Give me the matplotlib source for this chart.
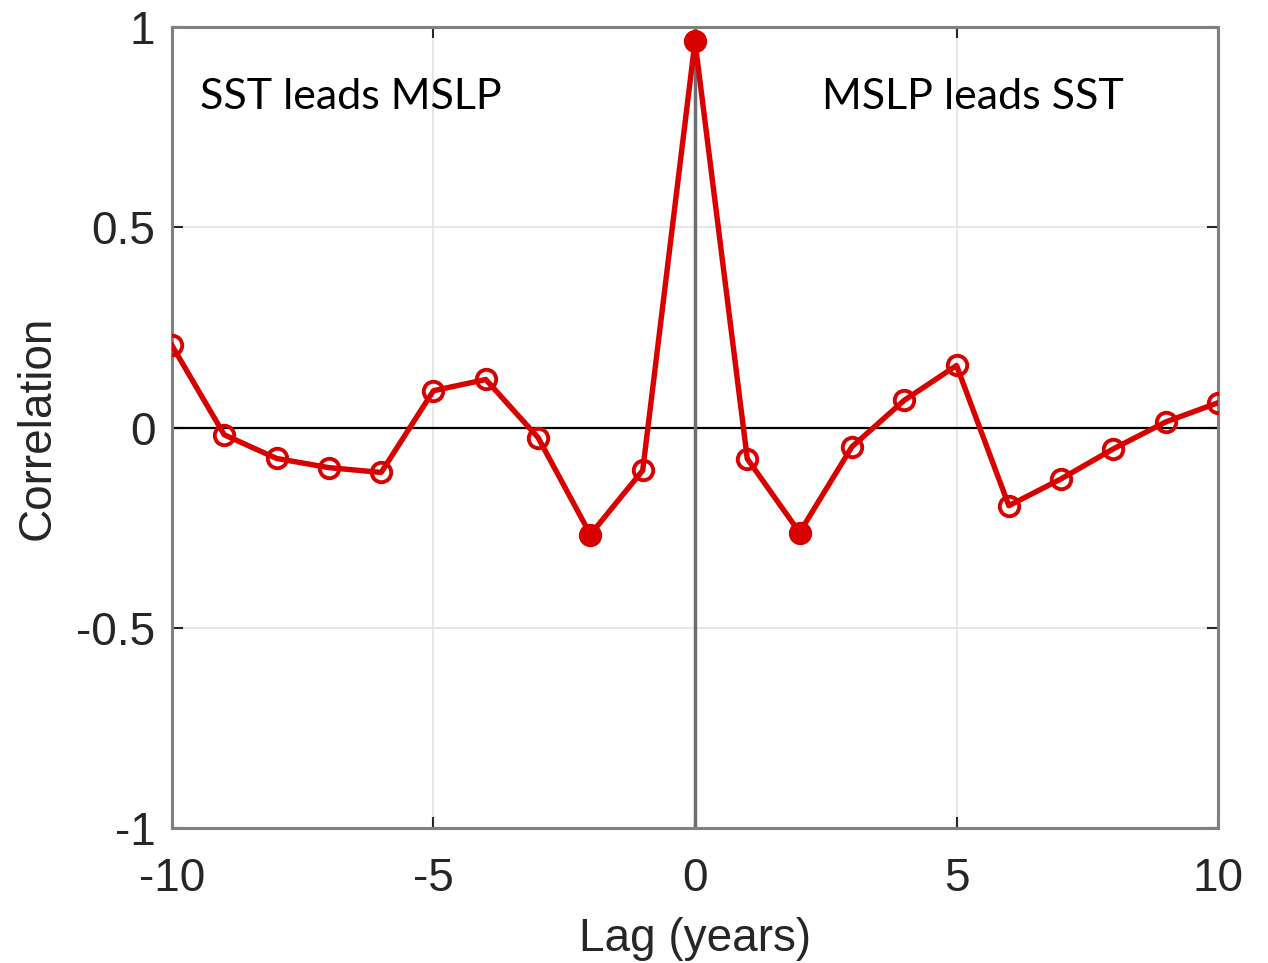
import matplotlib.pyplot as plt
import numpy as np

plt.rcParams['font.family'] = ['Liberation Sans', 'DejaVu Sans']
plt.rcParams['axes.unicode_minus'] = False

# Lagged correlation between SST and MSLP
lags = np.arange(-10, 11)
corr = [0.205, -0.018, -0.077, -0.100, -0.112, 0.092, 0.120, -0.025, -0.267, -0.107,
        0.964, -0.078, -0.262, -0.048, 0.068, 0.155, -0.195, -0.128, -0.053, 0.014, 0.062]
# lags where the correlation is significant (filled markers)
signif_lags = [-2, 0, 2]

xticks = [-10, -5, 0, 5, 10]
yticks = [-1, -0.5, 0, 0.5, 1]
yticklabels = ['-1', '-0.5', '0', '0.5', '1']

red = '#d90000'

fig = plt.figure(figsize=(12.68, 9.63), dpi=100)
ax = fig.add_axes([0.1356, 0.140, 0.825, 0.832])

ax.grid(True, color='#e3e3e3', linewidth=1.2)
ax.set_axisbelow(True)
ax.axhline(0, color='black', linewidth=1.6, zorder=2)
ax.axvline(0, color='#6e6e6e', linewidth=2.5, zorder=2)

ax.plot(lags, corr, '-o', color=red, linewidth=3.9, markersize=14,
        markerfacecolor='none', markeredgewidth=2.8, zorder=3)
sig = np.isin(lags, signif_lags)
ax.plot(lags[sig], np.array(corr)[sig], 'o', color=red, markersize=14, zorder=4)

ax.set_xlim(-10, 10)
ax.set_ylim(-1, 1)
ax.set_xticks(xticks)
ax.set_xticklabels([str(t) for t in xticks])
ax.set_yticks(yticks)
ax.set_yticklabels(yticklabels)
ax.tick_params(direction='in', length=8, width=1.5, colors='#262626',
               labelsize=33, top=True, right=True)
ax.tick_params(axis='x', pad=21)
ax.tick_params(axis='y', pad=12)
for s in ax.spines.values():
    s.set_color('#808080')
    s.set_linewidth(2.2)

ax.set_xlabel('Lag (years)', fontsize=33, color='#262626', labelpad=11)
ax.set_ylabel('Correlation', fontsize=33, color='#262626', labelpad=12)

ax.text(-9.47, 0.795, 'SST leads MSLP', fontsize=31, family=['Lato', 'DejaVu Sans'],
        color='black', ha='left', va='baseline')
ax.text(2.43, 0.795, 'MSLP leads SST', fontsize=31, family=['Lato', 'DejaVu Sans'],
        color='black', ha='left', va='baseline')

fig.savefig('out.png', dpi=100)
